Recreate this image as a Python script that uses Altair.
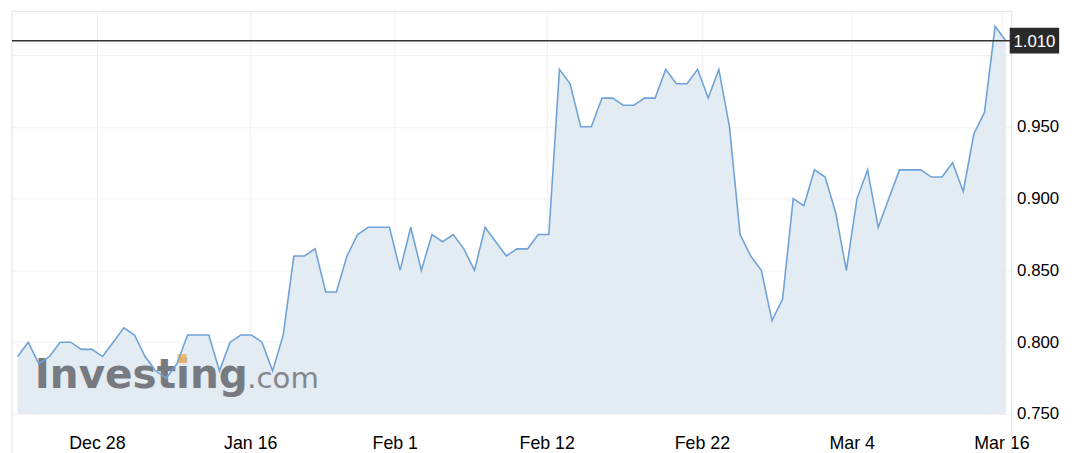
import altair as alt
import pandas as pd

# price series (one value per trading point)
values = [
    0.790, 0.800, 0.785, 0.790, 0.800, 0.800, 0.795, 0.795, 0.790, 0.800,
    0.810, 0.805, 0.790, 0.780, 0.775, 0.785, 0.805, 0.805, 0.805, 0.780,
    0.800, 0.805, 0.805, 0.800, 0.780, 0.805, 0.860, 0.860, 0.865, 0.835,
    0.835, 0.860, 0.875, 0.880, 0.880, 0.880, 0.850, 0.880, 0.850, 0.875,
    0.870, 0.875, 0.865, 0.850, 0.880, 0.870, 0.860, 0.865, 0.865, 0.875,
    0.875, 0.990, 0.980, 0.950, 0.950, 0.970, 0.970, 0.965, 0.965, 0.970,
    0.970, 0.990, 0.980, 0.980, 0.990, 0.970, 0.990, 0.950, 0.875, 0.860,
    0.850, 0.815, 0.830, 0.900, 0.895, 0.920, 0.915, 0.890, 0.850, 0.900,
    0.920, 0.880, 0.900, 0.920, 0.920, 0.920, 0.915, 0.915, 0.925, 0.905,
    0.945, 0.960, 1.020, 1.010,
]
index = list(range(len(values)))

# x-axis tick labels and where they sit along the point index
tick_labels = ["Dec 28", "Jan 16", "Feb 1", "Feb 12", "Feb 22", "Mar 4", "Mar 16"]
tick_positions = [7.47, 21.9, 35.5, 49.8, 64.4, 78.5, 92.6]

# y-axis ticks
y_ticks = [0.75, 0.80, 0.85, 0.90, 0.95, 1.00]
y_min = 0.75

df = pd.DataFrame({"i": index, "v": values})
last_df = pd.DataFrame({"v": [values[-1]]})

W, H = 1011, 407
FONT = "Liberation Sans"

label_expr = "''"
for p, l in reversed(list(zip(tick_positions, tick_labels))):
    label_expr = f"abs(datum.value - {p}) < 0.01 ? '{l}' : ({label_expr})"

x_scale = alt.Scale(domain=[-0.53, 93.56], nice=False, zero=False)
y_scale = alt.Scale(domain=[y_min, 1.0303], nice=False, zero=False)

x_enc = alt.X(
    "i:Q", scale=x_scale, title=None,
    axis=alt.Axis(values=tick_positions, labelExpr=label_expr, grid=True,
                  gridColor="#eef0f4", domain=False, ticks=False, tickSize=0,
                  labelPadding=21, labelFontSize=18, labelColor="#000000",
                  labelFont=FONT, labelFlush=False, labelOverlap=False),
)
y_enc = alt.Y(
    "v:Q", scale=y_scale, title=None,
    axis=alt.Axis(orient="right", values=y_ticks,
                  labelExpr="datum.value > 0.99 ? '' : format(datum.value, '.3f')",
                  grid=True, gridColor="#f1f2f5", domain=False, ticks=False,
                  tickSize=0, labelPadding=5, labelFontSize=17,
                  labelColor="#000000", labelFont=FONT),
)

base = alt.Chart(df)

area = base.mark_area(color="#e3ecf3", opacity=1).encode(
    x=x_enc, y=y_enc, y2=alt.datum(y_min))

wm1 = alt.Chart(pd.DataFrame({"t": ["Investing"]})).mark_text(
    font="DejaVu Sans", fontWeight="bold", fontSize=41, color="#777a80",
    align="left", baseline="alphabetic",
).encode(text="t:N", x=alt.value(23), y=alt.value(381))

wm_dot = alt.Chart(pd.DataFrame({"t": ["i"]})).mark_square(
    color="#f2b560", opacity=0.9, size=82,
).encode(x=alt.value(172), y=alt.value(351))

wm2 = alt.Chart(pd.DataFrame({"t": [".com"]})).mark_text(
    font="DejaVu Sans", fontSize=29.5, color="#84878c",
    align="left", baseline="alphabetic",
).encode(text="t:N", x=alt.value(238), y=alt.value(381))

line = base.mark_line(color="#6fa3d8", strokeWidth=1.6).encode(x=x_enc, y=y_enc)

last_rule = alt.Chart(last_df).mark_rule(color="#333333", strokeWidth=1.5).encode(
    y=alt.Y("v:Q", scale=y_scale), x=alt.value(0), x2=alt.value(1010))

last_box = alt.Chart(last_df).mark_rule(color="#2a2a2a", strokeWidth=26).encode(
    y=alt.Y("v:Q", scale=y_scale), x=alt.value(1009), x2=alt.value(1059))

last_text = alt.Chart(last_df).mark_text(
    color="#ffffff", fontSize=17, font=FONT, align="center", baseline="middle", dy=1,
).encode(y=alt.Y("v:Q", scale=y_scale), x=alt.value(1034),
         text=alt.Text("v:Q", format=".3f"))

frame_left = alt.Chart(last_df).mark_rule(color="#e2e6f0", strokeWidth=1.2).encode(
    x=alt.value(0), y=alt.value(0), y2=alt.value(450))
frame_right = alt.Chart(last_df).mark_rule(color="#e2e6f0", strokeWidth=1.2).encode(
    x=alt.value(W), y=alt.value(0), y2=alt.value(450))
frame_top = alt.Chart(last_df).mark_rule(color="#e2e6f0", strokeWidth=1.2).encode(
    y=alt.value(0), x=alt.value(0), x2=alt.value(W))

chart = alt.layer(
    area, wm1, wm_dot, wm2, line, frame_left, frame_right, frame_top,
    last_rule, last_box, last_text,
).properties(
    width=W, height=H,
    padding={"left": 3, "top": 0, "right": 0, "bottom": 0},
    background="#ffffff",
).configure_view(stroke=None)

chart.save("out.html", embed_options={"renderer": "svg", "actions": False})
